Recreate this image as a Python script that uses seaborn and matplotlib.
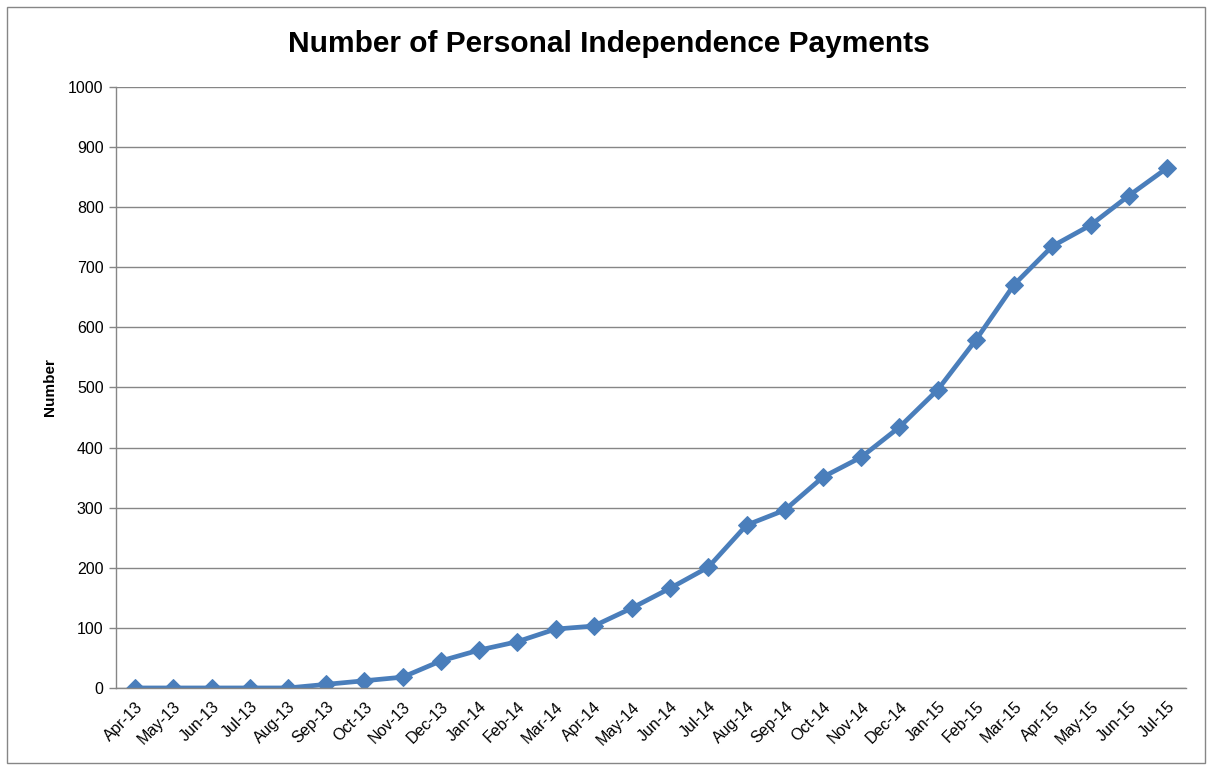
import numpy as np
import pandas as pd
import matplotlib
matplotlib.use("Agg")
import matplotlib.pyplot as plt
import seaborn as sns
from matplotlib.patches import Rectangle

# Data
months = ['Apr-13', 'May-13', 'Jun-13', 'Jul-13', 'Aug-13', 'Sep-13', 'Oct-13', 'Nov-13',
          'Dec-13', 'Jan-14', 'Feb-14', 'Mar-14', 'Apr-14', 'May-14', 'Jun-14', 'Jul-14',
          'Aug-14', 'Sep-14', 'Oct-14', 'Nov-14', 'Dec-14', 'Jan-15', 'Feb-15', 'Mar-15',
          'Apr-15', 'May-15', 'Jun-15', 'Jul-15']
payments = [0, 0, 0, 0, 0, 6, 12, 18, 45, 63, 77, 98, 103, 133, 166, 201, 271, 296,
            351, 384, 434, 496, 579, 671, 735, 770, 819, 865]
y_ticks = [0, 100, 200, 300, 400, 500, 600, 700, 800, 900, 1000]

df = pd.DataFrame({'pos': np.arange(len(months)), 'month': months, 'payments': payments})

sns.set_style("white")
plt.rcParams['font.family'] = ['Liberation Sans', 'DejaVu Sans']
plt.rcParams['text.color'] = 'black'
plt.rcParams['xtick.labelcolor'] = 'black'
plt.rcParams['ytick.labelcolor'] = 'black'

fig = plt.figure(figsize=(12.1, 7.65), dpi=100)
ax = fig.add_axes([0.0959, 0.1007, 0.8843, 0.7856])

sns.lineplot(data=df, x='pos', y='payments', ax=ax, color='#4a7ebb', linewidth=3.4,
             marker='D', markersize=9, markeredgecolor='#4a7ebb')

ax.set_xlim(-0.5, len(months) - 0.5)
ax.set_ylim(0, 1000)
ax.set_yticks(y_ticks)
ax.set_yticklabels([str(v) for v in y_ticks], fontsize=11.5)
ax.yaxis.grid(True, color='#868686', linewidth=1)
ax.set_axisbelow(True)

ax.set_xticks(np.arange(len(months)))
ax.set_xticklabels(months, rotation=45, ha='right', rotation_mode='anchor', fontsize=11.5)
ax.set_xticks(np.arange(len(months) + 1) - 0.5, minor=True)
ax.tick_params(axis='x', which='major', length=0, pad=8)
ax.tick_params(axis='x', which='minor', length=5, color='#868686', width=1)
ax.tick_params(axis='y', length=5, color='#868686', width=1, left=True, pad=4)

for side in ['top', 'right']:
    ax.spines[side].set_visible(False)
for side in ['left', 'bottom']:
    ax.spines[side].set_color('#868686')
    ax.spines[side].set_linewidth(1)

ax.set_xlabel('')
ax.set_ylabel('Number', fontsize=11, fontweight='bold', labelpad=8, color='black')
fig.text(0.503, 0.943, 'Number of Personal Independence Payments', fontsize=21.5,
         fontweight='bold', ha='center', va='center', color='black')

fig.patches.append(Rectangle((0.006, 0.003), 0.99, 0.988, transform=fig.transFigure,
                             fill=False, edgecolor='#868686', linewidth=1))

fig.savefig('out.png', dpi=100)
